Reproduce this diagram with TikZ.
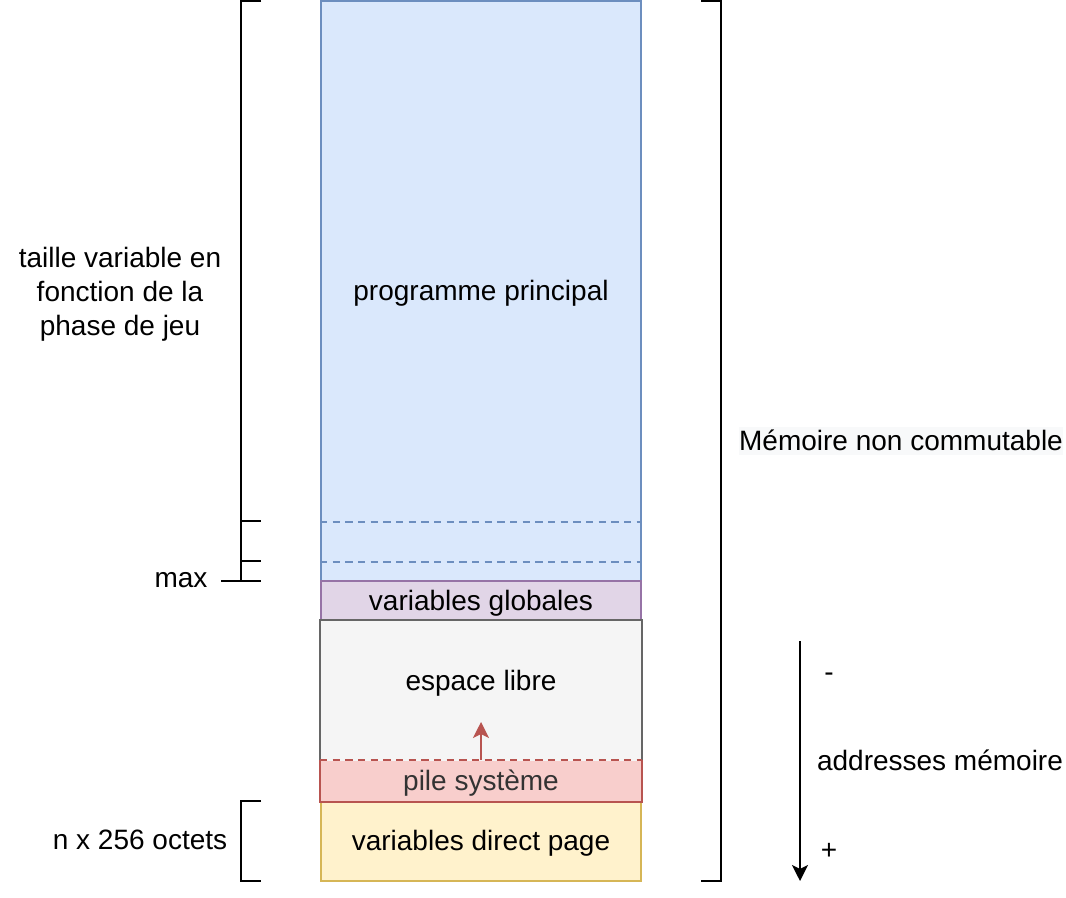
\documentclass[tikz,border=0pt]{standalone}
\usepackage{fontspec}
\setmainfont{Liberation Sans}
\usepackage{tikz}
\usetikzlibrary{calc}
\usetikzlibrary{arrows.meta,positioning}

\definecolor{progfill}{HTML}{DAE8FC}
\definecolor{progline}{HTML}{6C8EBF}
\definecolor{globfill}{HTML}{E1D5E7}
\definecolor{globline}{HTML}{9673A6}
\definecolor{librefill}{HTML}{F5F5F5}
\definecolor{libreline}{HTML}{666666}
\definecolor{pilefill}{HTML}{F8CECC}
\definecolor{pileline}{HTML}{B85450}
\definecolor{directfill}{HTML}{FFF2CC}
\definecolor{directline}{HTML}{D6B656}
\definecolor{memfill}{HTML}{F8F9FA}

\begin{document}
\begin{tikzpicture}[
  x=0.75pt,y=-0.75pt,
  line join=miter,
  every node/.style={font=\fontsize{21}{25.5}\selectfont},
  txt/.style={text height=19pt,text depth=4.45pt},
  block/.style={txt,minimum width=240pt,inner sep=0pt,line width=1.5pt},
  sep/.style={line width=1.1pt,dash pattern=on 5.5pt off 4pt},
  brace/.style={line width=1.5pt},
  >={Stealth[length=12pt,width=12pt,inset=3pt]}
]
  \useasboundingbox (0,0) rectangle (1066,898);

  % Memory blocks
  \node[block,fill=progfill,draw=progline,minimum height=435pt] (prog) at (481,291) {programme principal};
  \draw[sep,progline] ($(prog.south west)+(0,-60)$) -- ($(prog.south east)+(0,-60)$);
  \draw[sep,progline] ($(prog.south west)+(0,-20)$) -- ($(prog.south east)+(0,-20)$);
  \node[block,fill=globfill,draw=globline,minimum height=30pt] (glob) at (481,601) {variables globales};

  \node[block,fill=librefill,minimum height=105pt] (libre) at (481,691) {};
  \draw[line width=1.5pt,libreline] (libre.south west) -- (libre.north west) -- (libre.north east) -- (libre.south east);
  \node[txt] (libretxt) at (481,681) {espace libre};

  \node[block,fill=directfill,draw=directline,minimum height=60pt] (direct) at (481,841) {variables direct page};
  \node[block,fill=pilefill,text=black!80,minimum height=30pt] (pile) at (481,781) {pile système};
  \draw[line width=1.5pt,pileline] (pile.north west) -- (pile.south west) -- (pile.south east) -- (pile.north east);
  \draw[sep,pileline] (pile.north west) -- (pile.north east);

  % Stack growth
  \coordinate (grow) at (481,722);
  \draw[->,pileline,line width=1.1pt] (pile.north) -- (grow);

  % Left brackets
  \coordinate (progtop) at (241,1);
  \coordinate (progmax) at (241,581);
  \draw[brace] ($(progtop)+(20,0)$) -- (progtop) -- (progmax);
  \draw[brace] (241,521) -- (261,521);
  \draw[brace] (241,561) -- (261,561);
  \draw[brace] (221,581) -- (261,581);
  \draw[brace] (261,801) -- (241,801) -- (241,881) -- (261,881);

  % Right bracket
  \draw[brace] (701,1) -- (721,1) -- (721,881) -- (701,881);

  % Address direction
  \coordinate (addrtop) at (800,641);
  \coordinate (addrbot) at (800,881);
  \draw[->,line width=1.5pt] (addrtop) -- (addrbot);

  % Labels
  \node[align=center] (taille) at (120,294) {taille variable en\\fonction de la\\phase de jeu};
  \node[txt] (max) at (181,578) {max};
  \node[txt] (octets) at (140,840) {n x 256 octets};
  \node[fill=memfill,inner xsep=0pt,inner ysep=1pt,text height=17pt,text depth=2.5pt] (mem) at (901,441) {Mémoire non commutable};
  \node[txt] (moins) at (829,672) {-};
  \node[txt] (addr) at (940,761) {addresses mémoire};
  \node[txt] (plus) at (829,850) {+};
\end{tikzpicture}
\end{document}
